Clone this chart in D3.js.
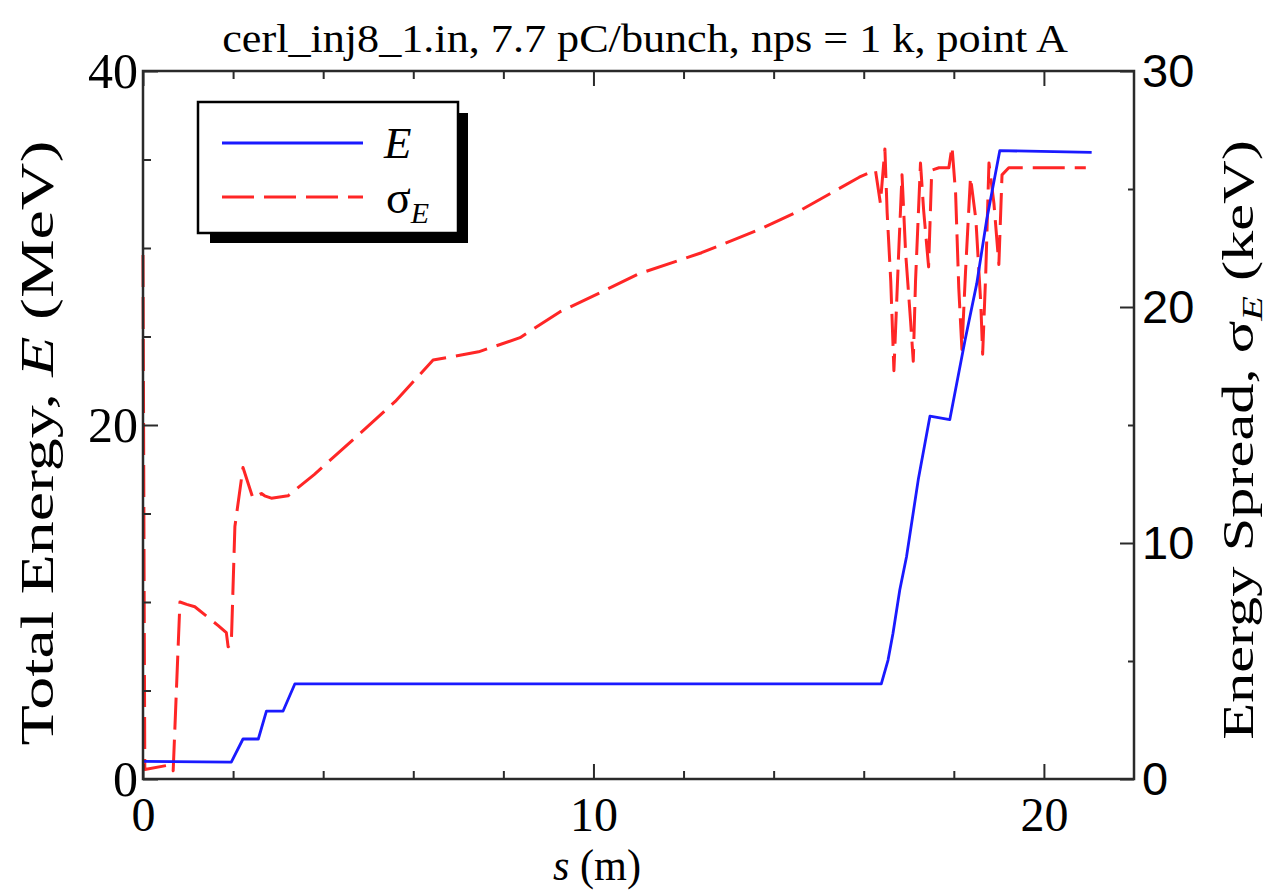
<!DOCTYPE html>
<html>
<head>
<meta charset="utf-8">
<script src="https://cdn.jsdelivr.net/npm/d3@7/dist/d3.min.js"></script>
<style>
  html, body { margin: 0; padding: 0; background: #fff; }
  svg { display: block; }
</style>
</head>
<body>
<svg id="chart" width="1272" height="891"></svg>
<script>
// Beam energy along the injector line: position s (m) and total energy E (MeV)
const energyS = [0, 1.96, 2.22, 2.56, 2.74, 3.11, 3.37, 16.39, 16.54, 16.65, 16.80, 16.95, 17.21,
                 17.47, 17.91, 18.25, 18.51, 18.73, 19.02, 21.06];
const energyMeV = [1.0, 0.95, 2.26, 2.26, 3.84, 3.84, 5.37, 5.37, 6.72, 8.23, 10.68, 12.56, 16.9,
                   20.5, 20.3, 24.8, 28.0, 31.6, 35.5, 35.4];

// Energy spread sigma_E (keV) at position s (m)
const spreadS = [0.0, 0.04, 0.6, 0.67, 0.82, 0.97, 1.15, 1.67, 1.85, 1.89, 1.96, 2.04, 2.22, 2.44,
                 2.63, 2.7, 2.85, 3.22, 3.8, 4.85, 5.6, 6.44, 7.45, 8.37, 9.26, 10.14, 11.0, 12.4,
                 13.7, 14.6, 15.25, 15.9, 16.26, 16.37, 16.47, 16.52, 16.6, 16.67, 16.78, 16.85,
                 16.93, 17.04, 17.1, 17.15, 17.26, 17.33, 17.44, 17.51, 17.67, 17.89, 17.96, 18.04,
                 18.11, 18.18, 18.26, 18.37, 18.49, 18.6, 18.64, 18.71, 18.78, 18.89, 19.0, 19.07,
                 19.22, 20.93];
const spreadKeV = [22.2, 0.4, 0.6, 0.35, 7.5, 7.4, 7.3, 6.5, 6.2, 5.6, 5.7, 10.7, 13.2, 11.9,
                   12.1, 12.0, 11.9, 12.0, 12.9, 14.7, 16.0, 17.75, 18.1, 18.7, 19.8, 20.6, 21.4, 22.3,
                   23.3, 24.1, 24.8, 25.5, 25.8, 24.4, 26.7, 24.0, 21.1, 17.3, 22.5, 25.6,
                   22.3, 19.4, 17.7, 21.1, 26.1, 24.1, 21.7, 25.8, 25.9, 25.9, 26.8, 24.8,
                   20.8, 18.2, 21.5, 25.5, 23.7, 20.1, 18.0, 21.5, 26.1, 24.4, 21.8, 25.6,
                   25.9, 25.9];

// Axis ticks
const sTicksMajor = [0, 10, 20];
const sTicksMinor = [2, 4, 6, 8, 12, 14, 16, 18];
const eTicksMajor = [0, 20, 40];
const eTicksMinor = [5, 10, 15, 25, 30, 35];
const spreadTicksMajor = [0, 10, 20, 30];
const spreadTicksMinor = [5, 15, 25];

const titleText = "cerl_inj8_1.in, 7.7 pC/bunch, nps = 1 k, point A";

const SERIF = "'Liberation Serif', 'Times New Roman', serif";
const SANS = "'Liberation Sans', Arial, sans-serif";
const AXIS_COLOR = "#2a2a2a";
const BLUE = "#1a1aff";
const RED = "#ff2626";
const DASH = "32,10";

const box = { left: 143, right: 1134, top: 71, bottom: 779 };

const x = d3.scaleLinear().domain([0, 22]).range([box.left, box.right]);
const yE = d3.scaleLinear().domain([0, 40]).range([box.bottom, box.top]);
const ySig = d3.scaleLinear().domain([0, 30]).range([box.bottom, box.top]);

const svg = d3.select("#chart");

// ---- data curves ----
const energyData = energyS.map((s, i) => [s, energyMeV[i]]);
const spreadData = spreadS.map((s, i) => [s, spreadKeV[i]]);

svg.append("path")
  .datum(spreadData)
  .attr("fill", "none")
  .attr("stroke", RED)
  .attr("stroke-width", 3)
  .attr("stroke-dasharray", DASH)
  .attr("stroke-linejoin", "round")
  .attr("d", d3.line().x(d => x(d[0])).y(d => ySig(d[1])));

svg.append("path")
  .datum(energyData)
  .attr("fill", "none")
  .attr("stroke", BLUE)
  .attr("stroke-width", 2.8)
  .attr("stroke-linejoin", "round")
  .attr("d", d3.line().x(d => x(d[0])).y(d => yE(d[1])));

// ---- axes ----
function addAxis(gen, tx, ty, family, size) {
  const g = svg.append("g")
    .attr("transform", `translate(${tx},${ty})`)
    .call(gen);
  g.select(".domain").remove();
  g.selectAll(".tick line").attr("stroke", AXIS_COLOR).attr("stroke-width", 2);
  g.selectAll(".tick text").attr("fill", "#000")
    .attr("font-family", family).attr("font-size", size);
  return g;
}

// bottom
addAxis(d3.axisBottom(x).tickValues(sTicksMajor).tickSize(-15).tickPadding(18)
  .tickFormat(d3.format("d")), 0, box.bottom, SERIF, 48);
addAxis(d3.axisBottom(x).tickValues(sTicksMinor).tickSize(-8).tickFormat(""),
  0, box.bottom, SERIF, 48);
// top
addAxis(d3.axisTop(x).tickValues(sTicksMajor).tickSize(-15).tickFormat(""), 0, box.top, SERIF, 48);
addAxis(d3.axisTop(x).tickValues(sTicksMinor).tickSize(-8).tickFormat(""), 0, box.top, SERIF, 48);
// left: total energy
addAxis(d3.axisLeft(yE).tickValues(eTicksMajor).tickSize(-15).tickPadding(5)
  .tickFormat(d3.format("d")), box.left, 0, SERIF, 50);
addAxis(d3.axisLeft(yE).tickValues(eTicksMinor).tickSize(-8).tickFormat(""), box.left, 0, SERIF, 50);
// right: energy spread
addAxis(d3.axisRight(ySig).tickValues(spreadTicksMajor).tickSize(-14).tickPadding(8)
  .tickFormat(d3.format("d")), box.right, 0, SANS, 47);
addAxis(d3.axisRight(ySig).tickValues(spreadTicksMinor).tickSize(-6).tickFormat(""), box.right, 0, SANS, 47);

// frame
svg.append("rect")
  .attr("x", box.left).attr("y", box.top)
  .attr("width", box.right - box.left).attr("height", box.bottom - box.top)
  .attr("fill", "none").attr("stroke", AXIS_COLOR).attr("stroke-width", 2.5);

// ---- text labels, horizontally fitted to a given width ----
function fittedText(cx, cy, angle, width, size, build) {
  const g = svg.append("g").attr("transform", `translate(${cx},${cy}) rotate(${angle})`);
  const t = g.append("text")
    .attr("text-anchor", "middle")
    .attr("font-family", SERIF)
    .attr("font-size", size)
    .attr("fill", "#000");
  build(t);
  const w = t.node().getBBox().width;
  t.attr("transform", `scale(${width / w},1)`);
  return t;
}

fittedText(645, 52, 0, 846, 40, t => t.text(titleText));

fittedText(53, 443, -90, 605, 46, t => {
  t.append("tspan").text("Total Energy, ");
  t.append("tspan").attr("font-style", "italic").text("E");
  t.append("tspan").text(" (MeV)");
});

fittedText(1253, 440, -90, 600, 45, t => {
  t.append("tspan").text("Energy Spread, σ");
  t.append("tspan").attr("font-style", "italic").attr("font-size", 30).attr("dy", 9).text("E");
  t.append("tspan").attr("dy", -9).text(" (keV)");
});

fittedText(597, 880, 0, 88, 44, t => {
  t.append("tspan").attr("font-style", "italic").text("s");
  t.append("tspan").text(" (m)");
});

// ---- legend ----
const legend = svg.append("g");
legend.append("rect")
  .attr("x", 210).attr("y", 113).attr("width", 258).attr("height", 130)
  .attr("fill", "#000");
legend.append("rect")
  .attr("x", 198).attr("y", 102).attr("width", 260).attr("height", 131)
  .attr("fill", "#fff").attr("stroke", "#000").attr("stroke-width", 2.5);
legend.append("line")
  .attr("x1", 222).attr("x2", 363).attr("y1", 143).attr("y2", 143)
  .attr("stroke", BLUE).attr("stroke-width", 2.8);
legend.append("line")
  .attr("x1", 222).attr("x2", 363).attr("y1", 197).attr("y2", 197)
  .attr("stroke", RED).attr("stroke-width", 3).attr("stroke-dasharray", DASH);
legend.append("text")
  .attr("x", 384).attr("y", 158)
  .attr("font-family", SERIF).attr("font-style", "italic").attr("font-size", 45)
  .text("E");
const sigLabel = legend.append("text")
  .attr("x", 386).attr("y", 213)
  .attr("font-family", SERIF).attr("font-size", 46);
sigLabel.append("tspan").text("σ");
sigLabel.append("tspan").attr("font-style", "italic").attr("font-size", 30).attr("dy", 10).text("E");
</script>
</body>
</html>
